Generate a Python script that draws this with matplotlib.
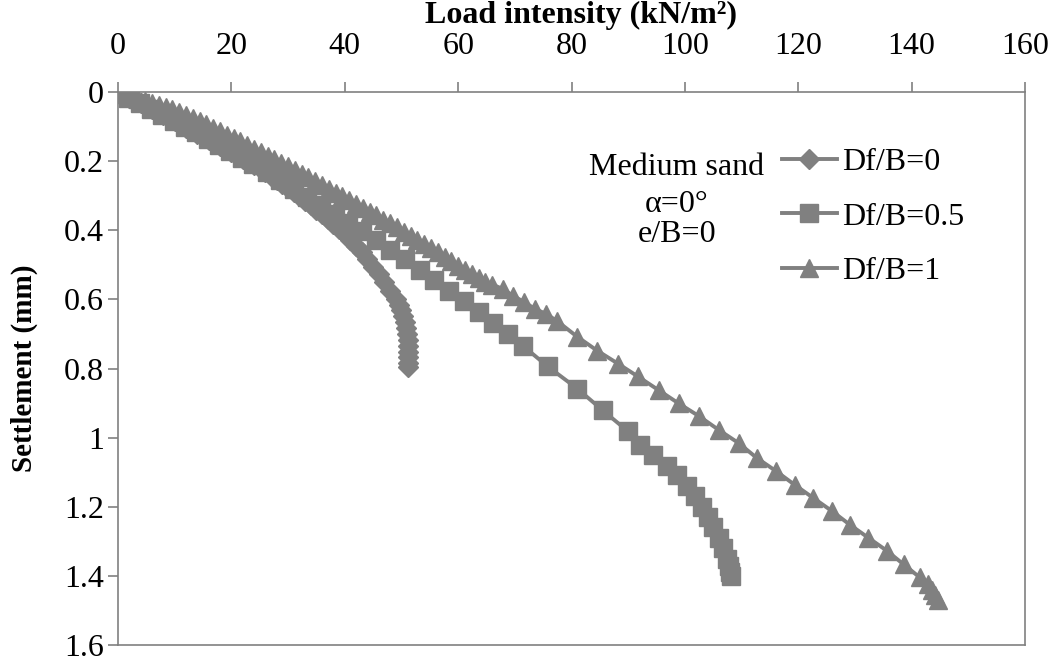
import matplotlib
matplotlib.use('Agg')
import matplotlib.pyplot as plt

# Df/B = 0  (diamonds)
load_0 = [0, 1, 2, 3, 4, 5, 6, 7, 8, 9, 10, 11, 12, 13, 14, 15, 16, 17, 18, 19,
          20, 21, 22, 23, 24, 25, 26, 27, 28, 29, 30, 31, 32, 33, 34, 35, 36, 37,
          38, 39, 40, 41, 42, 43, 44, 45, 46, 47, 48, 49, 49.5, 50, 50.3, 50.6,
          50.8, 51.0, 51.1, 51.2, 51.2, 51.2, 51.2, 51.1]
settle_0 = [0, 0.008, 0.016, 0.025, 0.033, 0.042, 0.050, 0.059, 0.067, 0.076,
            0.085, 0.094, 0.103, 0.112, 0.121, 0.130, 0.139, 0.148, 0.157, 0.166,
            0.175, 0.184, 0.193, 0.202, 0.211, 0.221, 0.232, 0.243, 0.254, 0.266,
            0.278, 0.290, 0.302, 0.315, 0.328, 0.341, 0.354, 0.368, 0.382, 0.396,
            0.410, 0.427, 0.445, 0.464, 0.484, 0.505, 0.527, 0.550, 0.575, 0.600,
            0.615, 0.632, 0.648, 0.665, 0.683, 0.700, 0.718, 0.735, 0.752, 0.768,
            0.783, 0.797]

# Df/B = 0.5  (squares)
load_05 = [0, 1.8, 3.8, 5.8, 7.8, 9.8, 11.8, 13.8, 15.8, 17.8, 19.8, 21.8, 23.8,
           26.2, 28.6, 31.0, 33.4, 35.8, 38.2, 40.6, 43.0, 45.5, 48.0, 50.6, 53.2,
           55.8, 58.4, 61.0, 63.6, 66.2, 68.8, 71.4, 75.8, 81.0, 85.5, 89.9, 92.1,
           94.4, 96.8, 98.6, 100.3, 101.8, 103.0, 104.0, 105.0, 106.0, 106.8,
           107.4, 107.8, 108.0, 108.2]
settle_05 = [0, 0.016, 0.032, 0.049, 0.066, 0.083, 0.100, 0.117, 0.135, 0.153,
             0.171, 0.190, 0.209, 0.232, 0.256, 0.280, 0.304, 0.328, 0.353, 0.378,
             0.403, 0.429, 0.456, 0.484, 0.514, 0.544, 0.575, 0.605, 0.636, 0.668,
             0.700, 0.734, 0.794, 0.858, 0.921, 0.981, 1.022, 1.050, 1.082, 1.108,
             1.140, 1.170, 1.200, 1.230, 1.260, 1.290, 1.320, 1.350, 1.370, 1.390,
             1.400]

# Df/B = 1  (triangles)
load_1 = [0, 1.2, 2.4, 3.6, 4.8, 6.0, 7.2, 8.4, 9.6, 10.8, 12.0, 13.2, 14.4, 15.6,
          16.8, 18.0, 19.2, 20.4, 21.6, 22.8, 24.0, 25.2, 26.4, 27.6, 28.8, 30.0,
          31.2, 32.4, 33.6, 34.8, 36.0, 37.2, 38.4, 39.6, 40.8, 42.0, 43.2, 44.4,
          45.6, 46.8, 48.0, 49.2, 50.4, 51.6, 52.8, 54.0, 55.2, 56.4, 57.6, 58.8,
          60.0, 61.2, 62.4, 63.6, 64.8, 66.0, 67.9, 69.7, 71.6, 73.5, 75.5, 77.4,
          81.0, 84.5, 88.2, 91.7, 95.4, 98.9, 102.5, 106.0, 109.5, 112.7, 116.0,
          119.4, 122.6, 125.9, 129.1, 132.3, 135.6, 138.6, 141.4, 142.9, 143.6,
          144.2, 144.6]
settle_1 = [0, 0.006, 0.012, 0.019, 0.025, 0.031, 0.037, 0.043, 0.050, 0.058,
            0.067, 0.076, 0.085, 0.094, 0.104, 0.113, 0.123, 0.133, 0.143, 0.154,
            0.164, 0.174, 0.184, 0.194, 0.205, 0.215, 0.226, 0.237, 0.247, 0.258,
            0.269, 0.280, 0.291, 0.301, 0.313, 0.324, 0.335, 0.346, 0.357, 0.369,
            0.380, 0.392, 0.404, 0.416, 0.428, 0.440, 0.452, 0.464, 0.477, 0.490,
            0.502, 0.514, 0.526, 0.538, 0.550, 0.557, 0.570, 0.590, 0.607, 0.627,
            0.642, 0.662, 0.708, 0.748, 0.786, 0.823, 0.863, 0.901, 0.938, 0.978,
            1.016, 1.059, 1.096, 1.137, 1.174, 1.212, 1.252, 1.289, 1.327, 1.367,
            1.404, 1.424, 1.440, 1.455, 1.470]

x_ticks = [0, 20, 40, 60, 80, 100, 120, 140, 160]
y_ticks = [0, 0.2, 0.4, 0.6, 0.8, 1.0, 1.2, 1.4, 1.6]
y_tick_labels = ['0', '0.2', '0.4', '0.6', '0.8', '1', '1.2', '1.4', '1.6']
note_lines = ['Medium sand', 'α=0°', 'e/B=0']

plt.rcParams['font.family'] = ['Liberation Serif', 'DejaVu Serif']
grey = '#808080'
W, H = 1055, 661

fig = plt.figure(figsize=(W / 100, H / 100), dpi=100)
ax = fig.add_axes([118 / W, 16 / H, 907 / W, 553 / H])

ax.plot(load_0, settle_0, color=grey, lw=2.8, marker='D', ms=10, label='Df/B=0')
ax.plot(load_05, settle_05, color=grey, lw=2.8, marker='s', ms=13, label='Df/B=0.5')
ax.plot(load_1, settle_1, color=grey, lw=2.8, marker='^', ms=13, label='Df/B=1')

ax.set_xlim(0, 160)
ax.set_ylim(1.6, 0)
ax.set_xticks(x_ticks)
ax.set_yticks(y_ticks)
ax.set_yticklabels(y_tick_labels)
ax.xaxis.tick_top()
ax.xaxis.set_label_position('top')
ax.tick_params(axis='both', direction='out', length=7, width=1.2, color=grey,
               labelsize=23)
ax.tick_params(axis='x', pad=15)
ax.tick_params(axis='y', pad=3)
for s in ax.spines.values():
    s.set_color(grey)
    s.set_linewidth(1.2)

ax.set_xlabel('Load intensity (kN/m²)', fontsize=23, fontweight='bold')
ax.xaxis.set_label_coords(0.51, 1.113)
ax.xaxis.label.set_va('bottom')
ax.set_ylabel('Settlement (mm)', fontsize=21, fontweight='bold')
ax.yaxis.set_label_coords(-0.088, 0.5)

ax.legend(loc='upper left', bbox_to_anchor=(782 / W, 1 - 148 / H),
          bbox_transform=fig.transFigure, frameon=False, fontsize=23,
          handlelength=1.72, handletextpad=0.15, labelspacing=0.78,
          borderpad=0, borderaxespad=0)

for txt, base in zip(note_lines, [175, 212, 242]):
    fig.text(677 / W, 1 - base / H, txt, ha='center', va='baseline', fontsize=23)

fig.savefig('out.png', dpi=100)
